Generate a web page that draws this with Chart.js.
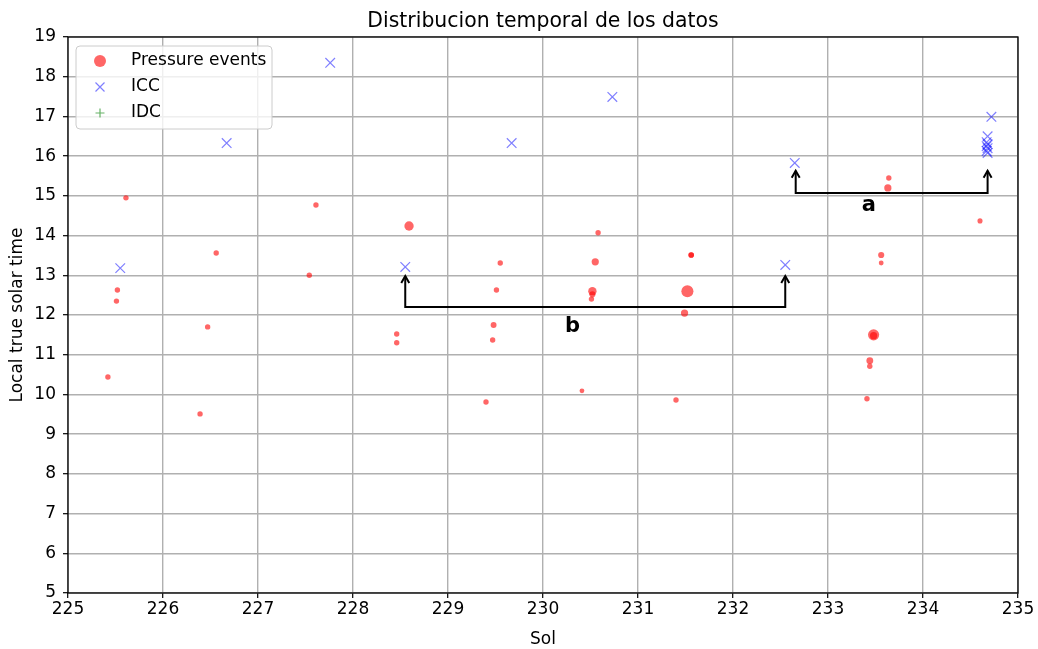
<!DOCTYPE html>
<html>
<head>
<meta charset="utf-8">
<script src="https://cdn.jsdelivr.net/npm/chart.js@4/dist/chart.umd.min.js"></script>
<style>
  html, body { margin: 0; padding: 0; background: #fff; }
  #wrap { width: 1038px; height: 649px; }
</style>
</head>
<body>
<div id="wrap"><canvas id="c" width="1038" height="649"></canvas></div>
<script>
// Pressure events: sol, local true solar time, relative event strength
const eventSol = [225.42, 225.52, 225.51, 225.61, 226.39, 226.47, 226.56, 227.54, 227.61,
  228.46, 228.46, 228.59, 229.40, 229.48, 229.47, 229.51, 229.55, 230.41, 230.51, 230.52,
  230.52, 230.55, 230.58, 231.40, 231.49, 231.52, 231.56, 231.56, 233.41, 233.44, 233.44,
  233.48, 233.48, 233.56, 233.56, 233.63, 233.64, 234.60];
const eventLtst = [10.44, 12.63, 12.35, 14.95, 9.51, 11.70, 13.56, 13.00, 14.77,
  11.52, 11.30, 14.24, 9.81, 11.75, 11.37, 12.63, 13.31, 10.09, 12.40, 12.60,
  12.52, 13.34, 14.07, 9.86, 12.05, 12.60, 13.51, 13.51, 9.89, 10.71, 10.85,
  11.50, 11.48, 13.31, 13.51, 15.20, 15.45, 14.37];
const eventStrength = [1, 1, 1, 1, 1, 1, 1, 1, 1,
  1, 1, 3.0, 1, 1.2, 1, 1, 1, 0.8, 1, 2.4,
  1.3, 1.8, 1, 1, 1.8, 5.0, 1.1, 1.1, 1, 1, 1.6,
  4.3, 1.8, 0.8, 1.3, 1.8, 1, 0.9];

// ICC observations
const iccSol = [225.55, 226.67, 227.76, 228.55, 229.67, 230.73, 232.55, 232.65,
  234.72, 234.68, 234.67, 234.68, 234.67, 234.68, 234.67, 234.68];
const iccLtst = [13.18, 16.33, 18.35, 13.21, 16.33, 17.49, 13.26, 15.83,
  16.99, 16.50, 16.35, 16.30, 16.25, 16.20, 16.13, 16.08];

// IDC observations (none in this window)
const idcSol = [];
const idcLtst = [];

// Axis ranges and ticks
const solTicks = [225, 226, 227, 228, 229, 230, 231, 232, 233, 234, 235];
const ltstTicks = [5, 6, 7, 8, 9, 10, 11, 12, 13, 14, 15, 16, 17, 18, 19];

// Bracket annotations: two arrow tips joined by a horizontal bar
const bracketLabels = ['b', 'a'];
const bracketTipSol = [[228.55, 232.55], [232.66, 234.68]];
const bracketBarLtst = [12.20, 15.07];
const bracketTipLtst = [12.98, 15.63];
const bracketLabelSol = [230.31, 233.43];
const bracketLabelLtst = [11.72, 14.75];

const FONT = '"DejaVu Sans", "Liberation Sans", sans-serif';

const toPoints = (xs, ys) => xs.map((x, i) => ({ x: x, y: ys[i] }));
const radiusFor = s => 2.7 * Math.sqrt(s);

const framePlugin = {
  id: 'frameAndNotes',
  afterDatasetsDraw(chart) {
    const ctx = chart.ctx;
    const xs = chart.scales.x, ys = chart.scales.y;
    // brackets with open arrowheads
    ctx.save();
    ctx.strokeStyle = '#000';
    ctx.lineWidth = 2;
    ctx.lineJoin = 'miter';
    for (let k = 0; k < bracketLabels.length; k++) {
      const x0 = xs.getPixelForValue(bracketTipSol[k][0]);
      const x1 = xs.getPixelForValue(bracketTipSol[k][1]);
      const yb = ys.getPixelForValue(bracketBarLtst[k]);
      const yt = ys.getPixelForValue(bracketTipLtst[k]);
      ctx.beginPath();
      ctx.moveTo(x0, yt);
      ctx.lineTo(x0, yb);
      ctx.lineTo(x1, yb);
      ctx.lineTo(x1, yt);
      ctx.stroke();
      [x0, x1].forEach(x => {
        ctx.beginPath();
        ctx.moveTo(x - 4, yt + 7);
        ctx.lineTo(x, yt);
        ctx.lineTo(x + 4, yt + 7);
        ctx.stroke();
      });
      ctx.fillStyle = '#000';
      ctx.font = 'bold 21px ' + FONT;
      ctx.textAlign = 'center';
      ctx.textBaseline = 'middle';
      ctx.fillText(bracketLabels[k], xs.getPixelForValue(bracketLabelSol[k]), ys.getPixelForValue(bracketLabelLtst[k]));
    }
    ctx.restore();
  },
  afterDraw(chart) {
    const ctx = chart.ctx;
    const a = chart.chartArea;
    ctx.save();
    // axes frame
    ctx.strokeStyle = '#000';
    ctx.lineWidth = 1.3;
    ctx.strokeRect(a.left, a.top, a.right - a.left, a.bottom - a.top);
    // title
    ctx.fillStyle = '#000';
    ctx.font = '20.4px ' + FONT;
    ctx.textAlign = 'center';
    ctx.textBaseline = 'middle';
    ctx.fillText('Distribucion temporal de los datos', (a.left + a.right) / 2, 22);
    // legend box
    const bx = a.left + 8, by = a.top + 9, bw = 196, bh = 83, r = 4;
    ctx.beginPath();
    ctx.moveTo(bx + r, by);
    ctx.arcTo(bx + bw, by, bx + bw, by + bh, r);
    ctx.arcTo(bx + bw, by + bh, bx, by + bh, r);
    ctx.arcTo(bx, by + bh, bx, by, r);
    ctx.arcTo(bx, by, bx + bw, by, r);
    ctx.closePath();
    ctx.fillStyle = 'rgba(255,255,255,0.8)';
    ctx.fill();
    ctx.strokeStyle = '#cccccc';
    ctx.lineWidth = 1;
    ctx.stroke();
    const mx = bx + 24;
    const rows = [by + 15, by + 41, by + 67];
    // markers
    ctx.fillStyle = 'rgba(255,0,0,0.6)';
    ctx.beginPath();
    ctx.arc(mx, rows[0], 6, 0, Math.PI * 2);
    ctx.fill();
    ctx.strokeStyle = 'rgba(0,0,255,0.5)';
    ctx.lineWidth = 1.2;
    ctx.beginPath();
    ctx.moveTo(mx - 4.5, rows[1] - 4.5); ctx.lineTo(mx + 4.5, rows[1] + 4.5);
    ctx.moveTo(mx - 4.5, rows[1] + 4.5); ctx.lineTo(mx + 4.5, rows[1] - 4.5);
    ctx.stroke();
    ctx.strokeStyle = 'rgba(0,128,0,0.6)';
    ctx.beginPath();
    ctx.moveTo(mx - 4.5, rows[2]); ctx.lineTo(mx + 4.5, rows[2]);
    ctx.moveTo(mx, rows[2] - 4.5); ctx.lineTo(mx, rows[2] + 4.5);
    ctx.stroke();
    ctx.fillStyle = '#000';
    ctx.font = '17px ' + FONT;
    ctx.textAlign = 'left';
    ctx.textBaseline = 'middle';
    chart.data.datasets.forEach((d, i) => ctx.fillText(d.label, bx + 55, rows[i]));
    ctx.restore();
  }
};

new Chart(document.getElementById('c'), {
  type: 'scatter',
  data: {
    datasets: [
      {
        label: 'Pressure events',
        data: toPoints(eventSol, eventLtst),
        backgroundColor: 'rgba(255,0,0,0.6)',
        borderWidth: 0,
        pointRadius: eventStrength.map(radiusFor),
        pointStyle: 'circle'
      },
      {
        label: 'ICC',
        data: toPoints(iccSol, iccLtst),
        borderColor: 'rgba(0,0,255,0.5)',
        backgroundColor: 'rgba(0,0,255,0.5)',
        borderWidth: 1.2,
        pointRadius: 6.8,
        pointStyle: 'crossRot'
      },
      {
        label: 'IDC',
        data: toPoints(idcSol, idcLtst),
        borderColor: 'rgba(0,128,0,0.6)',
        borderWidth: 1.2,
        pointRadius: 5,
        pointStyle: 'cross'
      }
    ]
  },
  options: {
    responsive: false,
    animation: false,
    devicePixelRatio: 1,
    layout: { padding: { top: 37, right: 20, left: 0, bottom: 0 } },
    plugins: { legend: { display: false }, title: { display: false }, tooltip: { enabled: false } },
    scales: {
      x: {
        type: 'linear',
        min: solTicks[0],
        max: solTicks[solTicks.length - 1],
        afterBuildTicks: s => { s.ticks = solTicks.map(v => ({ value: v })); },
        afterFit: s => { s.height = 56; },
        border: { display: false },
        grid: { color: '#b0b0b0', lineWidth: 1.4, tickColor: '#000', tickLength: 5, tickWidth: 1.2 },
        ticks: { color: '#000', font: { family: FONT, size: 17 }, padding: 1, maxRotation: 0 },
        title: { display: true, text: 'Sol', color: '#000', font: { family: FONT, size: 17 }, padding: { top: 0, bottom: -1 } }
      },
      y: {
        type: 'linear',
        min: ltstTicks[0],
        max: ltstTicks[ltstTicks.length - 1],
        afterBuildTicks: s => { s.ticks = ltstTicks.map(v => ({ value: v })); },
        afterFit: s => { s.width = 68; },
        border: { display: false },
        grid: { color: '#b0b0b0', lineWidth: 1.4, tickColor: '#000', tickLength: 5, tickWidth: 1.2 },
        ticks: { color: '#000', font: { family: FONT, size: 17 }, padding: 7 },
        title: { display: true, text: 'Local true solar time', color: '#000', font: { family: FONT, size: 17 }, padding: { top: 7, bottom: 0 } }
      }
    }
  },
  plugins: [framePlugin]
});
</script>
</body>
</html>
